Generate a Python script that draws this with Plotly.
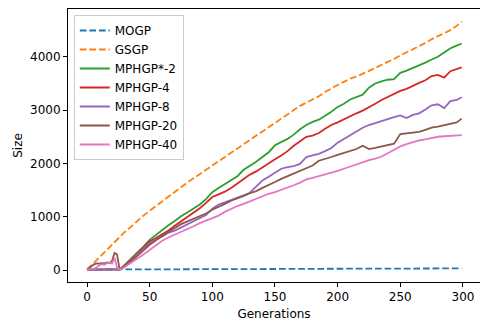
import plotly.graph_objects as go

# Generation index at which each size value was recorded
gens = list(range(0, 31, 2)) + list(range(35, 296, 5)) + [299]

mogp = [8, 8, 9, 9, 9, 10, 10, 10, 10, 11, 11, 11, 11, 12, 12, 12,
        12, 13, 13, 13, 14, 14, 14, 15, 15, 15,
        16, 16, 16, 17, 17, 17, 18, 18, 18, 19,
        19, 19, 20, 20, 20, 21, 21, 21, 22, 22,
        22, 23, 23, 23, 24, 24, 24, 25, 25, 25,
        26, 26, 26, 27, 27, 27, 28, 28, 28, 29,
        29, 29, 30,
        30]

gsgp = [8, 55, 105, 150, 200, 250, 300, 345, 390, 440, 490, 530, 580, 620, 670, 710,
        810, 920, 1020, 1110, 1200, 1290, 1380, 1470, 1550, 1640,
        1720, 1800, 1880, 1960, 2040, 2110, 2190, 2270, 2350, 2430,
        2510, 2590, 2670, 2750, 2840, 2920, 3000, 3080, 3140, 3200,
        3260, 3340, 3410, 3470, 3530, 3590, 3630, 3680, 3730, 3790,
        3850, 3900, 3960, 4025, 4080, 4140, 4200, 4260, 4330, 4390,
        4440, 4500, 4580,
        4660]

mphgp_2 = [8, 8, 9, 9, 10, 10, 11, 12, 12, 13, 14, 14, 15, 12, 50, 95,
           200, 320, 440, 566, 660, 750, 840, 920, 1010, 1080,
           1160, 1230, 1330, 1460, 1540, 1610, 1690, 1760, 1880, 1950,
           2030, 2120, 2210, 2340, 2400, 2460, 2540, 2640, 2720, 2780,
           2820, 2890, 2970, 3060, 3120, 3200, 3240, 3290, 3420, 3500,
           3540, 3570, 3580, 3700, 3740, 3790, 3830, 3890, 3950, 4000,
           4080, 4160, 4210,
           4250]

mphgp_4 = [8, 8, 9, 9, 10, 10, 10, 11, 11, 12, 12, 13, 13, 14, 45, 85,
           190, 305, 420, 534, 600, 670, 740, 830, 910, 990,
           1070, 1160, 1260, 1370, 1420, 1470, 1540, 1620, 1700, 1790,
           1850, 1930, 2000, 2080, 2150, 2230, 2330, 2420, 2500, 2520,
           2570, 2650, 2720, 2770, 2830, 2890, 2940, 2990, 3050, 3120,
           3190, 3250, 3310, 3360, 3400, 3460, 3510, 3560, 3640, 3660,
           3610, 3730, 3770,
           3800]

mphgp_8 = [8, 8, 8, 9, 9, 9, 9, 10, 10, 10, 10, 10, 11, 11, 35, 70,
           170, 290, 400, 503, 570, 640, 700, 740, 800, 850,
           910, 970, 1030, 1150, 1230, 1270, 1310, 1350, 1400, 1450,
           1560, 1680, 1750, 1820, 1900, 1930, 1950, 1990, 2120, 2150,
           2180, 2230, 2290, 2390, 2460, 2530, 2600, 2670, 2720, 2760,
           2800, 2840, 2870, 2900, 2850, 2910, 2940, 3010, 3090, 3110,
           3040, 3170, 3190,
           3240]

mphgp_20 = [8, 40, 80, 110, 125, 120, 130, 125, 140, 130, 170, 320, 290, 12, 30, 65,
            160, 260, 370, 472, 560, 640, 710, 790, 860, 910,
            950, 1000, 1060, 1130, 1180, 1240, 1300, 1340, 1390, 1440,
            1480, 1540, 1590, 1650, 1710, 1760, 1800, 1850, 1900, 1960,
            2050, 2080, 2120, 2160, 2200, 2230, 2270, 2330, 2270, 2290,
            2320, 2340, 2370, 2550, 2560, 2570, 2590, 2630, 2670, 2690,
            2720, 2740, 2770,
            2840]

mphgp_40 = [8, 8, 15, 25, 60, 90, 110, 100, 130, 140, 120, 230, 40, 10, 25, 55,
            120, 210, 290, 377, 470, 550, 610, 660, 710, 760,
            820, 880, 930, 975, 1020, 1090, 1150, 1200, 1240, 1290,
            1330, 1390, 1430, 1460, 1500, 1550, 1590, 1640, 1700, 1730,
            1760, 1790, 1820, 1860, 1900, 1940, 1980, 2030, 2060, 2090,
            2130, 2190, 2260, 2320, 2360, 2400, 2430, 2450, 2480, 2500,
            2510, 2520, 2525,
            2530]

series = [
    ("MOGP", mogp, "#1f77b4", "6.7px,2.9px"),
    ("GSGP", gsgp, "#ff7f0e", "6.7px,2.9px"),
    ("MPHGP*-2", mphgp_2, "#2ca02c", "solid"),
    ("MPHGP-4", mphgp_4, "#d62728", "solid"),
    ("MPHGP-8", mphgp_8, "#9467bd", "solid"),
    ("MPHGP-20", mphgp_20, "#8c564b", "solid"),
    ("MPHGP-40", mphgp_40, "#e377c2", "solid"),
]

fig = go.Figure()
for name, vals, color, dash in series:
    fig.add_trace(go.Scatter(
        x=gens, y=vals, name=name, mode="lines",
        line=dict(color=color, width=1.8, dash=dash),
    ))

font = dict(family="DejaVu Sans", size=12, color="black")

fig.update_layout(
    width=480, height=326,
    margin=dict(l=68, r=0, t=9, b=44),
    paper_bgcolor="white", plot_bgcolor="white",
    font=font,
    showlegend=True,
    legend=dict(
        x=0.014, y=0.978, xanchor="left", yanchor="top",
        bgcolor="rgba(255,255,255,0.8)",
        bordercolor="#cccccc", borderwidth=1,
        font=font,
    ),
    xaxis=dict(
        range=[-15.16, 313.6],
        tickvals=[0, 50, 100, 150, 200, 250, 300],
        ticks="outside", ticklen=4, tickcolor="black",
        showline=True, mirror=True, linecolor="black", linewidth=1,
        showgrid=False, zeroline=False,
        title=dict(text="Generations", font=font, standoff=6),
    ),
    yaxis=dict(
        range=[-225, 4897],
        tickvals=[0, 1000, 2000, 3000, 4000],
        ticks="outside", ticklen=4, tickcolor="black",
        showline=True, mirror=True, linecolor="black", linewidth=1,
        showgrid=False, zeroline=False,
        title=dict(text="Size", font=font, standoff=4),
    ),
)

fig.write_html("out.html")
